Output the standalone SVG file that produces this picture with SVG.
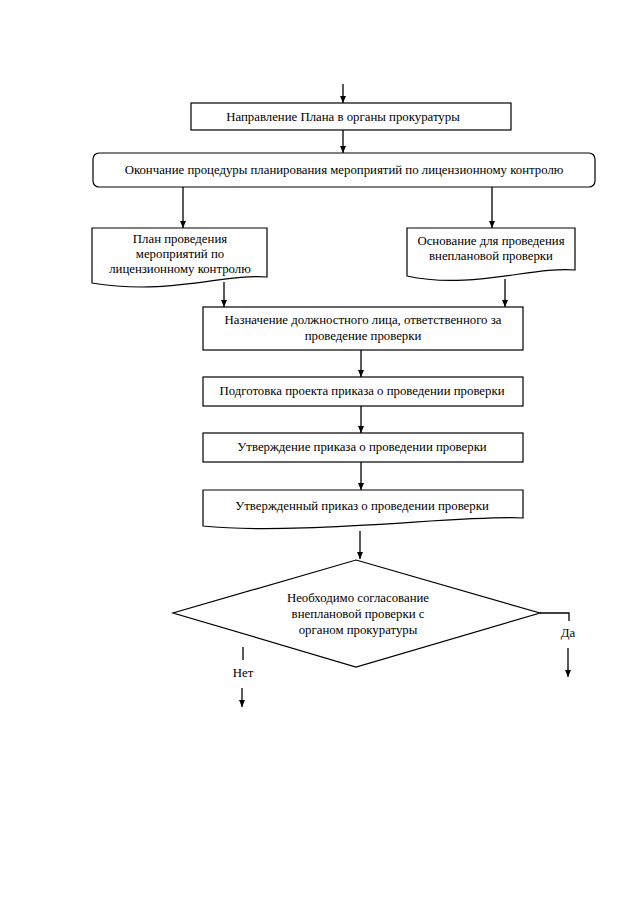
<svg xmlns="http://www.w3.org/2000/svg" width="640" height="905" viewBox="0 0 640 905">
<style>
.box{fill:#fff;stroke:#000;stroke-width:1.2}
.t{font-family:"Liberation Serif","Times New Roman","DejaVu Serif",serif;font-size:12.8px;fill:#000;text-anchor:middle}
.c{fill:none;stroke:#000;stroke-width:1.3}
</style>
<defs>
<marker id="ah" markerWidth="8" markerHeight="8" refX="7" refY="4" orient="auto" markerUnits="userSpaceOnUse">
<path d="M0,1 L7,4 L0,7 Z" fill="#000"/>
</marker>
</defs>
<rect width="640" height="905" fill="#fff"/>
<g id="connectors">
<line class="c" x1="343" y1="84" x2="343" y2="103" marker-end="url(#ah)"/>
<line class="c" x1="343" y1="130" x2="343" y2="153" marker-end="url(#ah)"/>
<line class="c" x1="183" y1="187" x2="183" y2="228" marker-end="url(#ah)"/>
<line class="c" x1="492" y1="187" x2="492" y2="228" marker-end="url(#ah)"/>
<line class="c" x1="224" y1="282" x2="224" y2="307" marker-end="url(#ah)"/>
<line class="c" x1="505" y1="279" x2="505" y2="307" marker-end="url(#ah)"/>
<line class="c" x1="361" y1="350" x2="361" y2="377" marker-end="url(#ah)"/>
<line class="c" x1="361" y1="406" x2="361" y2="433" marker-end="url(#ah)"/>
<line class="c" x1="361" y1="462" x2="361" y2="490" marker-end="url(#ah)"/>
<line class="c" x1="360" y1="531" x2="360" y2="559" marker-end="url(#ah)"/>
<polyline class="c" points="540,613 569,613 569,621"/>
<line class="c" x1="568" y1="648" x2="568" y2="677" marker-end="url(#ah)"/>
<line class="c" x1="243" y1="647" x2="243" y2="660"/>
<line class="c" x1="242" y1="688" x2="242" y2="707" marker-end="url(#ah)"/>
<text class="t" x="568" y="637">Да</text>
<text class="t" x="243" y="677">Нет</text>
</g>
<g id="n1">
<rect class="box" x="191" y="103" width="320" height="27"/>
<text class="t" x="343" y="121">Направление Плана в органы прокуратуры</text>
</g>
<g id="n2">
<rect class="box" x="93" y="153" width="502" height="34" rx="6"/>
<text class="t" x="344" y="174">Окончание процедуры планирования мероприятий по лицензионному контролю</text>
</g>
<g id="n3">
<path class="box" d="M92,228 H267 V277 C225,273 170,296 92,283 Z"/>
<text class="t" x="180" y="243">План проведения</text>
<text class="t" x="180" y="258">мероприятий по</text>
<text class="t" x="180" y="273">лицензионному контролю</text>
</g>
<g id="n4">
<path class="box" d="M407,228 H575 V270 C535,266 470,290 407,276 Z"/>
<text class="t" x="491" y="245">Основание для проведения</text>
<text class="t" x="491" y="260">внеплановой проверки</text>
</g>
<g id="n5">
<rect class="box" x="203" y="307" width="320" height="43"/>
<text class="t" x="363" y="324">Назначение должностного лица, ответственного за</text>
<text class="t" x="363" y="340">проведение проверки</text>
</g>
<g id="n6">
<rect class="box" x="203" y="377" width="320" height="29"/>
<text class="t" x="362" y="395">Подготовка проекта приказа о проведении проверки</text>
</g>
<g id="n7">
<rect class="box" x="203" y="433" width="320" height="29"/>
<text class="t" x="362" y="451">Утверждение приказа о проведении проверки</text>
</g>
<g id="n8">
<path class="box" d="M203,490 H523 V518 C470,514 300,536 203,526 Z"/>
<text class="t" x="362" y="510">Утвержденный приказ о проведении проверки</text>
</g>
<g id="n9">
<polygon class="box" points="356,560 540,613 356,667 173,613"/>
<text class="t" x="358" y="602">Необходимо согласование</text>
<text class="t" x="358" y="618">внеплановой проверки с</text>
<text class="t" x="358" y="634">органом прокуратуры</text>
</g>
</svg>
